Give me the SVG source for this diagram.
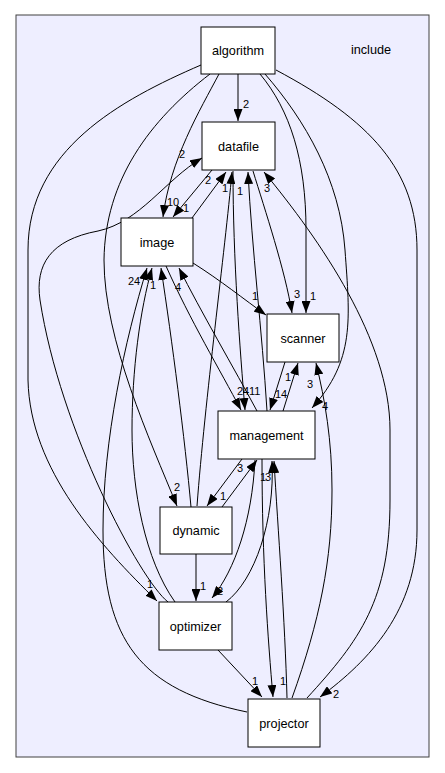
<svg xmlns="http://www.w3.org/2000/svg" width="445" height="773" viewBox="0 0 445 773">
<defs>
<marker id="ah" markerUnits="userSpaceOnUse" viewBox="0 0 12 9" markerWidth="12" markerHeight="9" refX="12" refY="4.5" orient="auto">
<path d="M0,0 L12,4.5 L0,9 z" fill="#000"/>
</marker>
<style>
.n rect{fill:#fff;stroke:#000;stroke-width:1}
.n text{font-family:"Liberation Sans",Arial,sans-serif;font-size:12.7px;text-anchor:middle;fill:#000}
#edges path{fill:none;stroke:#000;stroke-width:1;marker-end:url(#ah)}
#edges text{font-family:"Liberation Sans",Arial,sans-serif;font-size:11px;fill:#000}
</style>
</defs>
<rect x="0" y="0" width="445" height="773" fill="#fff"/>
<g id="cluster">
<rect x="16" y="15" width="413" height="742" fill="#eeeeff" stroke="#404040" stroke-width="1"/>
<text x="371" y="54" font-family="Liberation Sans, Arial, sans-serif" font-size="12.7" text-anchor="middle">include</text>
</g>
<g id="edges">
<!-- algorithm -->
<path d="M238,74 L238,121"/><text x="243" y="108">2</text>
<path d="M219,74 C200,110 170,160 163,217"/><text x="167" y="206">10</text>
<path d="M210,74 C150,120 105,180 104,260 C104,340 150,440 177,506"/><text x="174" y="491">2</text>
<path d="M201,65 C120,100 28,150 28,250 L28,380 C30,470 100,545 157,601"/><text x="147" y="588">1</text>
<path d="M276,70 C370,120 417,170 417,250 L417,530 C417,610 370,660 320,697"/><text x="333" y="698">2</text>
<path d="M260,74 C290,110 306,160 306,230 L306,313"/><text x="310" y="300">1</text>
<path d="M265,74 C305,120 340,180 345,250 C350,320 355,360 312,408"/><text x="322" y="410">4</text>
<!-- datafile / image -->
<path d="M212,170 L173,217"/><text x="205" y="184">2</text>
<path d="M192,218 L226,172"/><text x="183" y="212">1</text>
<path d="M168,602 C140,580 60,430 40,300 C35,265 50,240 98,231 C140,222 165,180 202,158"/><text x="179" y="158">2</text>
<path d="M197,506 C205,400 225,250 232,172"/><text x="222" y="192">1</text>
<path d="M233,171 C233,260 240,350 245,410"/>
<path d="M267,411 C262,330 252,250 248,172"/><text x="237" y="195">1</text>
<path d="M253,171 C265,210 285,270 292,313"/><text x="294" y="298">3</text>
<path d="M307,698 C360,640 390,600 390,500 L390,430 C390,340 320,240 264,172"/><text x="264" y="192">3</text>
<path d="M193,263 C220,280 245,300 266,315"/><text x="252" y="300">1</text>
<!-- into image bottom -->
<path d="M247,712 C140,690 103,640 103,530 C103,440 125,340 147,268"/><text x="128" y="285">24</text>
<path d="M175,602 C145,560 132,490 132,430 C132,370 140,310 152,268"/>
<path d="M191,507 C185,440 172,340 161,268"/><text x="150" y="289">1</text>
<path d="M257,411 C235,370 200,310 179,268"/><text x="175" y="291">4</text>
<!-- management -->
<path d="M166,266 C190,320 220,370 241,410"/><text x="237" y="395">24</text><text x="249" y="395">11</text>
<path d="M285,362 L270,410"/><text x="275" y="398">14</text>
<path d="M283,411 L298,363"/><text x="285" y="381">1</text>
<path d="M292,698 C320,620 332,560 332,490 C332,440 325,400 316,363"/><text x="307" y="388">3</text>
<path d="M242,459 L207,506"/><text x="237" y="472">3</text>
<path d="M222,507 L257,460"/><text x="220" y="500">1</text>
<path d="M255,460 C252,520 235,570 212,598"/><text x="217" y="595">2</text>
<path d="M226,602 C255,580 275,520 272,461"/><text x="260" y="481">1</text><text x="265" y="481">3</text>
<path d="M262,459 C262,560 268,640 273,697"/><text x="280" y="685">1</text>
<path d="M287,698 C285,620 278,530 274,461"/>
<!-- lower -->
<path d="M218,650 L262,697"/><text x="252" y="685">1</text>
<path d="M196,554 L196,601"/><text x="200" y="590">1</text>
</g>
<g id="algorithm" class="n"><rect x="201" y="27" width="74" height="47"/><text x="238" y="55">algorithm</text></g>
<g id="datafile" class="n"><rect x="202" y="122" width="73" height="48"/><text x="238.5" y="150.5">datafile</text></g>
<g id="image" class="n"><rect x="121" y="218" width="72" height="48"/><text x="157" y="246.5">image</text></g>
<g id="scanner" class="n"><rect x="267" y="314" width="72" height="48"/><text x="303" y="342.5">scanner</text></g>
<g id="management" class="n"><rect x="218" y="411" width="97" height="48"/><text x="266.5" y="439.5">management</text></g>
<g id="dynamic" class="n"><rect x="160" y="507" width="72" height="47"/><text x="196" y="535">dynamic</text></g>
<g id="optimizer" class="n"><rect x="159" y="602" width="73" height="48"/><text x="195.5" y="630.5">optimizer</text></g>
<g id="projector" class="n"><rect x="248" y="699" width="72" height="48"/><text x="284" y="727.5">projector</text></g>
</svg>
